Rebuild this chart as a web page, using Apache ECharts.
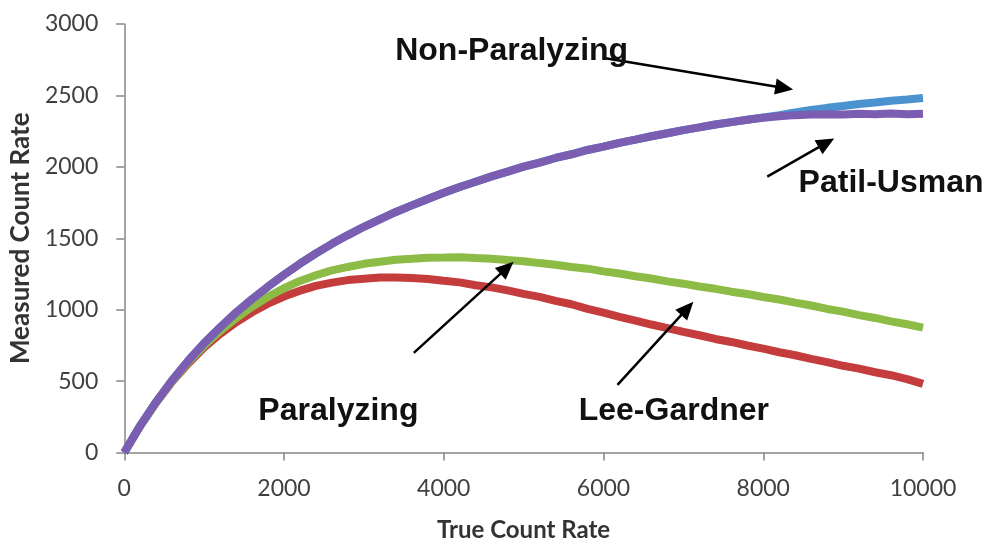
<!DOCTYPE html>
<html>
<head>
<meta charset="utf-8">
<script src="https://cdn.jsdelivr.net/npm/echarts@6/dist/echarts.min.js"></script>
<style>
  html, body { margin: 0; padding: 0; background: #ffffff; }
  #chart { width: 988px; height: 550px; }
</style>
</head>
<body>
<div id="chart"></div>
<script>
// True count rate (x) sampled every 200 counts
const trueRate = [
  0, 200, 400, 600, 800, 1000, 1200, 1400, 1600, 1800,
  2000, 2200, 2400, 2600, 2800, 3000, 3200, 3400, 3600, 3800,
  4000, 4200, 4400, 4600, 4800, 5000, 5200, 5400, 5600, 5800,
  6000, 6200, 6400, 6600, 6800, 7000, 7200, 7400, 7600, 7800,
  8000, 8200, 8400, 8600, 8800, 9000, 9200, 9400, 9600, 9800, 10000
];

// Measured count rate for each dead-time model
const nonParalyzing = [
  0, 188, 355, 506, 642, 766, 876, 980, 1074, 1162,
  1244, 1322, 1394, 1461, 1522, 1580, 1632, 1684, 1730, 1775,
  1818, 1859, 1896, 1933, 1966, 2001, 2030, 2062, 2088, 2118,
  2141, 2168, 2190, 2214, 2235, 2257, 2276, 2296, 2313, 2330,
  2346, 2362, 2380, 2398, 2413, 2426, 2440, 2450, 2463, 2472, 2482
];
const patilUsman = [
  0, 188, 355, 506, 642, 766, 876, 980, 1074, 1162,
  1244, 1322, 1394, 1461, 1522, 1580, 1632, 1684, 1730, 1775,
  1818, 1859, 1896, 1933, 1966, 2001, 2030, 2062, 2088, 2118,
  2141, 2168, 2190, 2214, 2235, 2257, 2276, 2296, 2313, 2330,
  2344, 2354, 2362, 2366, 2369, 2366, 2371, 2368, 2373, 2369, 2372
];
const paralyzing = [
  0, 186, 350, 496, 622, 735, 830, 912, 982, 1042,
  1092, 1133, 1166, 1189, 1207, 1217, 1225, 1226, 1221, 1215,
  1202, 1191, 1171, 1156, 1135, 1111, 1090, 1062, 1038, 1006,
  979, 950, 924, 896, 871, 844, 821, 795, 774, 749,
  727, 702, 681, 655, 633, 607, 587, 562, 541, 514, 480
];
const leeGardner = [
  0, 186, 352, 500, 632, 748, 850, 940, 1020, 1090,
  1150, 1201, 1241, 1275, 1299, 1321, 1335, 1349, 1356, 1364,
  1365, 1367, 1361, 1357, 1347, 1339, 1326, 1315, 1299, 1287,
  1268, 1253, 1234, 1218, 1198, 1182, 1162, 1146, 1126, 1110,
  1089, 1071, 1049, 1029, 1005, 986, 962, 942, 918, 898, 874
];

// Axis ticks
const xTicks = [0, 2000, 4000, 6000, 8000, 10000];
const yTicks = [0, 500, 1000, 1500, 2000, 2500, 3000];

// Model labels and the arrows pointing from them to their curves
const modelLabels = [
  { name: 'Non-Paralyzing', at: [4850, 2812] },
  { name: 'Patil-Usman',    at: [9600, 1888] },
  { name: 'Paralyzing',     at: [2681, 291] },
  { name: 'Lee-Gardner',    at: [6881, 288] }
];
const arrows = [
  { from: [6025, 2760], to: [8263, 2552] },
  { from: [8050, 1932], to: [8790, 2168] },
  { from: [3625, 698],  to: [4791, 1293] },
  { from: [6175, 473],  to: [7049, 1009] }
];

const pairs = ys => trueRate.map((x, i) => [x, ys[i]]);

const axisGrey = '#868686';
const tickFont = { fontFamily: 'Lato', fontSize: 23, color: '#404040' };
const titleFont = size => ({ fontFamily: 'Lato', fontWeight: 'bold', fontSize: size, color: '#333333' });

function curve(name, ys, color) {
  return {
    name: name,
    type: 'line',
    data: pairs(ys),
    showSymbol: false,
    symbol: 'none',
    smooth: false,
    lineStyle: { color: color, width: 8, cap: 'butt', join: 'bevel' },
    itemStyle: { color: color },
    emphasis: { disabled: true },
    silent: true
  };
}

const chart = echarts.init(document.getElementById('chart'), null, { renderer: 'canvas' });

chart.setOption({
  animation: false,
  backgroundColor: '#ffffff',
  grid: { left: 123, right: 65, top: 24, bottom: 97.5, containLabel: false },
  xAxis: {
    type: 'value',
    min: xTicks[0],
    max: xTicks[xTicks.length - 1],
    interval: xTicks[1] - xTicks[0],
    name: 'True Count Rate',
    nameLocation: 'middle',
    nameGap: 66,
    nameTextStyle: titleFont(24),
    axisLine: { show: true, lineStyle: { color: axisGrey, width: 1.5 } },
    axisTick: { show: true, length: 8, lineStyle: { color: axisGrey, width: 1.5 } },
    axisLabel: Object.assign({ margin: 25, formatter: v => String(v) }, tickFont),
    splitLine: { show: false }
  },
  yAxis: {
    type: 'value',
    min: yTicks[0],
    max: yTicks[yTicks.length - 1],
    interval: yTicks[1] - yTicks[0],
    name: 'Measured Count Rate',
    nameLocation: 'middle',
    nameGap: 84,
    nameTextStyle: titleFont(26),
    axisLine: { show: true, lineStyle: { color: axisGrey, width: 1.5 } },
    axisTick: { show: true, length: 8, lineStyle: { color: axisGrey, width: 1.5 } },
    axisLabel: Object.assign({ margin: 26, formatter: v => String(v) }, tickFont),
    splitLine: { show: false }
  },
  series: [
    curve('Paralyzing', paralyzing, '#C43C3C'),
    curve('Lee-Gardner', leeGardner, '#8CBB46'),
    curve('Non-Paralyzing', nonParalyzing, '#4A93CF'),
    Object.assign(curve('Patil-Usman', patilUsman, '#7B5EB2'), {
      markLine: {
        silent: true,
        animation: false,
        symbol: ['none', 'triangle'],
        symbolSize: [16, 18],
        label: { show: false },
        lineStyle: { color: '#000000', width: 2.5, type: 'solid' },
        emphasis: { disabled: true },
        data: arrows.map(a => [{ coord: a.from }, { coord: a.to }])
      },
      markPoint: {
        silent: true,
        animation: false,
        symbolSize: 0,
        label: {
          show: true,
          position: 'inside',
          formatter: '{b}',
          fontFamily: 'Liberation Sans',
          fontWeight: 'bold',
          fontSize: 32,
          color: '#111111'
        },
        data: modelLabels.map(l => ({ name: l.name, coord: l.at }))
      }
    })
  ]
});
</script>
</body>
</html>
